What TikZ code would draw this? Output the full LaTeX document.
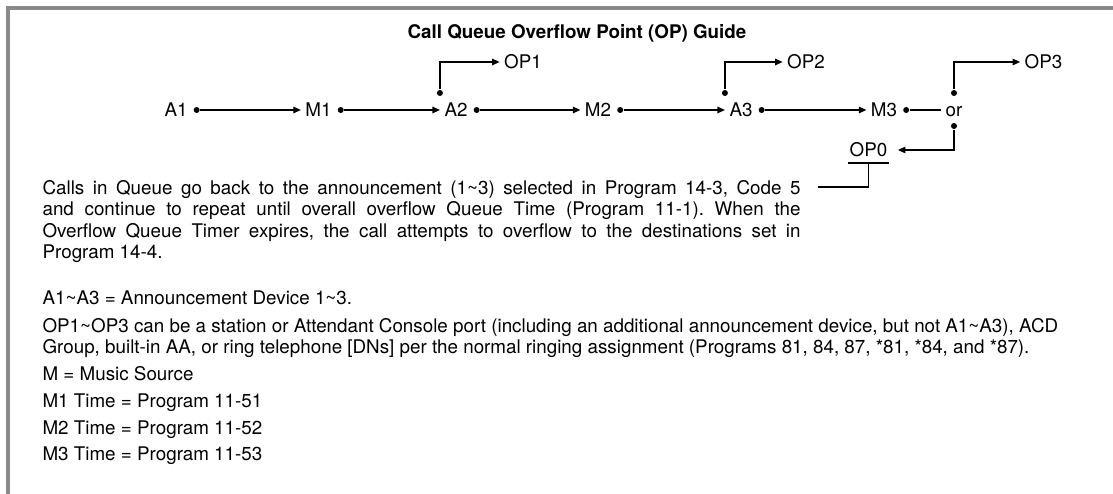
\documentclass[tikz,border=0pt]{standalone}
\usepackage{fontspec}
\setmainfont{TeX Gyre Heros}
\usetikzlibrary{positioning,arrows.meta}
\frenchspacing
\tikzset{
  lbl/.style={inner xsep=4pt,inner ysep=0pt,text height=13.5pt,text depth=0pt,font=\fontsize{18.8}{21.5}\selectfont},
  dot/.style={circle,fill,inner sep=0pt,minimum size=6pt},
  arr/.style={-{Triangle[length=7.5pt,width=6.5pt]}},
  txt/.style={inner sep=0pt,align=left,font=\fontsize{18.8}{21.5}\selectfont}
}
\begin{document}
\begin{tikzpicture}[x=1pt,y=-1pt,line width=1.15pt]
\useasboundingbox (0,0) rectangle (1113,494);
\draw[line width=4.5pt,black!46] (8,494)--(8,8)--(1113,8);

\node[lbl,font=\fontsize{18.8}{21.5}\selectfont\bfseries] (title) at (577,32) {Call Queue Overflow Point (OP) Guide};

\node[lbl] (A1) at (176,110) {A1};
\node[lbl] (M1) at (318.5,110) {M1};
\node[lbl] (A2) at (456,110) {A2};
\node[lbl] (M2) at (598,110) {M2};
\node[lbl] (A3) at (741,110) {A3};
\node[lbl] (M3) at (884,110) {M3};
\node[lbl] (OR) at (954,110) {or};
\node[lbl] (OP1) at (523,62) {OP1};
\node[lbl] (OP2) at (806,62) {OP2};
\node[lbl] (OP3) at (1043.5,62) {OP3};
\node[lbl,inner xsep=1pt] (OP0) at (868.5,150) {OP0};

\foreach \n in {A1,M1,A2,M2,A3,M3}
  \node[dot,right=1pt of \n] (o\n) {};
\foreach \n in {A2,A3}
  \node[dot] (u\n) at ([yshift=17pt]\n.west) {};
\node[dot] (uOR) at ([yshift=17pt]OR.center) {};
\node[dot] (dOR) at ([yshift=-16pt]OR.center) {};

\draw[arr] (oA1)--(M1);
\draw[arr] (oM1)--(A2);
\draw[arr] (oA2)--(M2);
\draw[arr] (oM2)--(A3);
\draw[arr] (oA3)--(M3);
\draw (oM3)--(OR);
\draw[arr] (uA2) |- (OP1);
\draw[arr] (uA3) |- (OP2);
\draw[arr] (uOR) |- (OP3);
\draw[arr,shorten >=9pt] (dOR) |- (OP0);

\coordinate (ul) at ([yshift=-13pt]OP0.center);
\coordinate (callsend) at (818,187);
\draw ([yshift=-13pt]OP0.west)--([yshift=-13pt]OP0.east);
\draw (ul) |- (callsend);

\node[txt,anchor=north west,text width=758pt,align=justify] (calls) at (42,179.5) {Calls in Queue go back to the announcement (1\textasciitilde 3) selected in Program 14-3, Code 5\linebreak and continue to repeat until overall overflow Queue Time (Program 11-1). When the\linebreak Overflow Queue Timer expires, the call attempts to overflow to the destinations set in\linebreak Program 14-4.};

\node[txt,anchor=base west] (defA) at (42,305) {A1\textasciitilde A3 = Announcement Device 1\textasciitilde 3.};
\node[txt,anchor=north west] (defOP) at (42,317.5) {OP1\textasciitilde OP3 can be a station or Attendant Console port (including an additional announcement device, but not A1\textasciitilde A3), ACD\\Group, built-in AA, or ring telephone [DNs] per the normal ringing assignment (Programs 81, 84, 87, *81, *84, and *87).};
\node[txt,anchor=base west] (defM) at (42,380) {M = Music Source};
\node[txt,anchor=base west] (defM1) at (42,407) {M1 Time = Program 11-51};
\node[txt,anchor=base west] (defM2) at (42,434) {M2 Time = Program 11-52};
\node[txt,anchor=base west] (defM3) at (42,460) {M3 Time = Program 11-53};
\end{tikzpicture}
\end{document}
